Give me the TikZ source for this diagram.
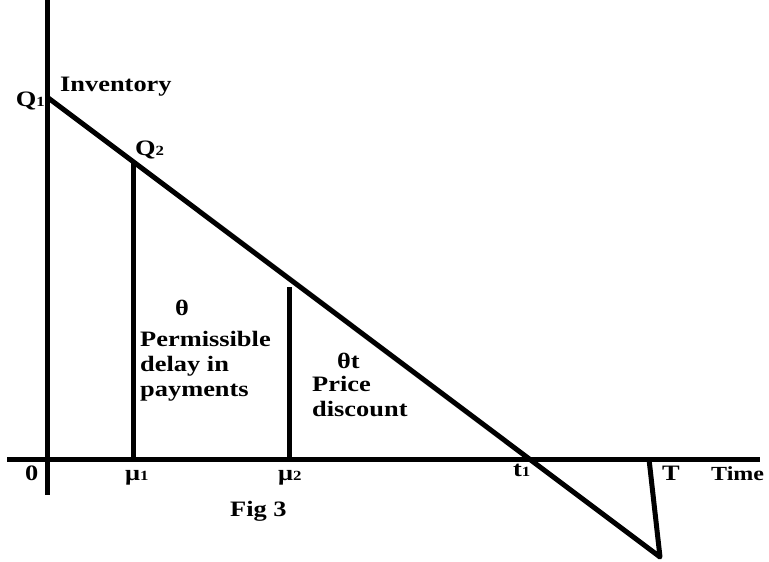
\documentclass[tikz,border=0pt]{standalone}
\usepackage{fontspec}
\setmainfont{Liberation Serif}[FakeStretch=1.2]
\usetikzlibrary{positioning}
\newcommand{\idx}[1]{{\fontsize{14}{14}\selectfont #1}}

\begin{document}
\begin{tikzpicture}[
  x=1pt, y=-1pt,
  font=\fontsize{22}{25}\selectfont\bfseries,
  axis/.style={line width=5pt},
  stock/.style={line width=5pt, line join=round},
  lbl/.style={inner sep=0pt, anchor=base west},
  blk/.style={inner sep=0pt, align=left, anchor=north west}
]
\useasboundingbox (0,0) rectangle (769,562);
% axes
\coordinate (ytop) at (47,0);
\coordinate (ybot) at (47,495);
\coordinate (xl) at (7,459);
\coordinate (xr) at (760,459);
% inventory level
\coordinate (q1) at (47,97);
\coordinate (low) at (660,557);
\coordinate (tend) at (649,459);
\coordinate (m1) at (133,459);
\coordinate (m1top) at (133,162);
\coordinate (m2) at (289,459);
\coordinate (m2top) at (289,287);

\draw[axis] (ytop) -- (ybot);
\draw[axis] (xl) -- (xr);
\draw[stock] (q1) -- (low) -- (tend);
\draw[stock] (m1) -- (m1top);
\draw[stock] (m2) -- (m2top);

% labels
\node[lbl, anchor=base east] (lq1) at (45,106) {Q\idx{1}};
\node[lbl] (inv) at (60,91) {Inventory};
\node[lbl] (lq2) at (135,155) {Q\idx{2}};
\node[lbl] (th) at (175,315) {θ};
\node[blk] (delay) at (140,331) {Permissible\\delay in\\payments};
\node[lbl] (tht) at (337,368) {θt};
\node[blk] (disc) at (312,376) {Price\\discount};
\node[lbl] (zero) at (25,480) {0};
\node[lbl] (lm1) at (125,480) {μ\idx{1}};
\node[lbl] (lm2) at (278,480) {μ\idx{2}};
\node[lbl] (lt1) at (513,476) {t\idx{1}};
\node[lbl] (lT) at (662,480) {T};
\node[lbl, font=\fontsize{20}{22}\selectfont\bfseries] (time) at (711,480) {Time};
\node[lbl] (fig) at (230,516) {Fig 3};
\end{tikzpicture}
\end{document}
